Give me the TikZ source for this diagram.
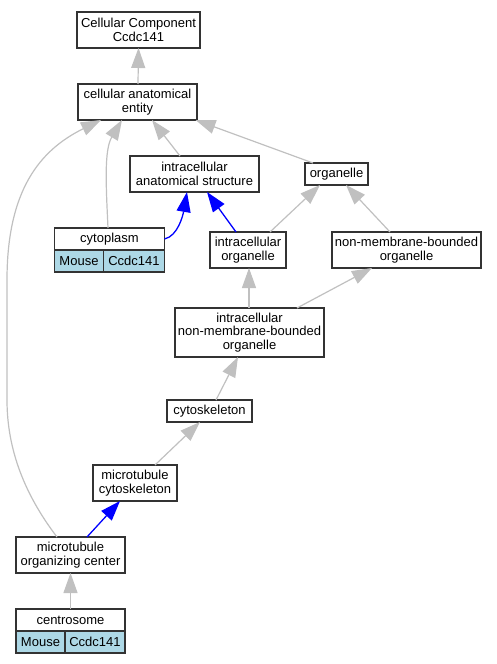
\documentclass[tikz,border=0pt]{standalone}
\usepackage{fontspec}
\setmainfont{Liberation Sans}
\usetikzlibrary{arrows.meta}
\definecolor{edgegray}{HTML}{C0C0C0}
\definecolor{cellblue}{HTML}{ADD8E6}
\tikzset{
  box/.style={draw=black!80, line width=1.3pt, fill=white, inner sep=0pt, outer sep=0pt,
    align=center, font=\fontsize{13}{13.5}\selectfont, text=black},
  cell/.style={box, fill=cellblue},
  isa/.style={draw=edgegray, line width=1.2pt, -{Triangle[length=20pt,width=14pt]}},
  part/.style={draw=blue, line width=1.3pt, -{Triangle[length=20pt,width=14pt]}},
}
\begin{document}
\begin{tikzpicture}[x=1pt,y=-1pt]
\useasboundingbox (0,0) rectangle (497,664);
\node[box, minimum width=123pt, minimum height=36pt] (cc) at (138.5,30) {Cellular Component\\Ccdc141};
\node[box, minimum width=119pt, minimum height=36pt] (entity) at (137.5,102) {cellular anatomical\\entity};
\node[box, minimum width=129pt, minimum height=36pt] (ias) at (194.5,174) {intracellular\\anatomical structure};
\node[box, minimum width=63pt, minimum height=22pt] (org) at (336.5,174) {organelle};
\node[box, minimum width=110pt, minimum height=22pt] (cyto) at (109.5,239) {cytoplasm};
\node[cell, minimum width=49pt, minimum height=22pt] (cytom) at (79,261) {Mouse};
\node[cell, minimum width=61pt, minimum height=22pt] (cytog) at (134,261) {Ccdc141};
\node[box, minimum width=76pt, minimum height=36pt] (io) at (248,250) {intracellular\\organelle};
\node[box, minimum width=149pt, minimum height=36pt] (nmb) at (406.5,250) {non-membrane-bounded\\organelle};
\node[box, minimum width=149pt, minimum height=49pt] (inmb) at (249.5,332.5) {intracellular\\non-membrane-bounded\\organelle};
\node[box, minimum width=85pt, minimum height=22pt] (cytosk) at (209.5,411) {cytoskeleton};
\node[box, minimum width=84pt, minimum height=36pt] (mtc) at (135,483) {microtubule\\cytoskeleton};
\node[box, minimum width=109pt, minimum height=36pt] (mtoc) at (70.5,555) {microtubule\\organizing center};
\node[box, minimum width=109pt, minimum height=22pt] (centro) at (70.5,620) {centrosome};
\node[cell, minimum width=49pt, minimum height=22pt] (centm) at (40.5,642) {Mouse};
\node[cell, minimum width=60pt, minimum height=22pt] (centg) at (95,642) {Ccdc141};

\draw[isa] ([xshift=0.5pt]entity.north) -- (cc.south);
\draw[isa] ([xshift=-14.5pt]ias.north) -- ([xshift=14.5pt]entity.south);
\draw[isa] ([xshift=-23.5pt]org.north) -- ([xshift=58pt]entity.south);
\draw[isa] ([xshift=-1.5pt]cyto.north) .. controls (106,185) and (104,150) .. ([xshift=-15.5pt]entity.south);
\draw[isa] ([xshift=-13.5pt]mtoc.north) .. controls (25,495) and (7,450) .. (7,400) -- (7,280) .. controls (7,190) and (40,150) .. ([xshift=-36.5pt]entity.south);
\draw[part] (cyto.east) .. controls (178,236) and (183,215) .. ([xshift=-7.5pt]ias.south);
\draw[part] ([xshift=-12pt]io.north) -- ([xshift=12.5pt]ias.south);
\draw[isa] ([xshift=22pt]io.north) -- ([xshift=-16.5pt]org.south);
\draw[isa] ([xshift=-16.5pt]nmb.north) -- ([xshift=9.5pt]org.south);
\draw[isa] ([xshift=-0.5pt]inmb.north) -- ([xshift=1pt]io.south);
\draw[isa] ([xshift=47.5pt]inmb.north) -- ([xshift=-34.5pt]nmb.south);
\draw[isa] ([xshift=6.5pt]cytosk.north) -- ([xshift=-11.5pt]inmb.south);
\draw[isa] ([xshift=20pt]mtc.north) -- ([xshift=-9.5pt]cytosk.south);
\draw[part] ([xshift=16.5pt]mtoc.north) -- ([xshift=-15pt]mtc.south);
\draw[isa] (centro.north) -- (mtoc.south);
\end{tikzpicture}
\end{document}
